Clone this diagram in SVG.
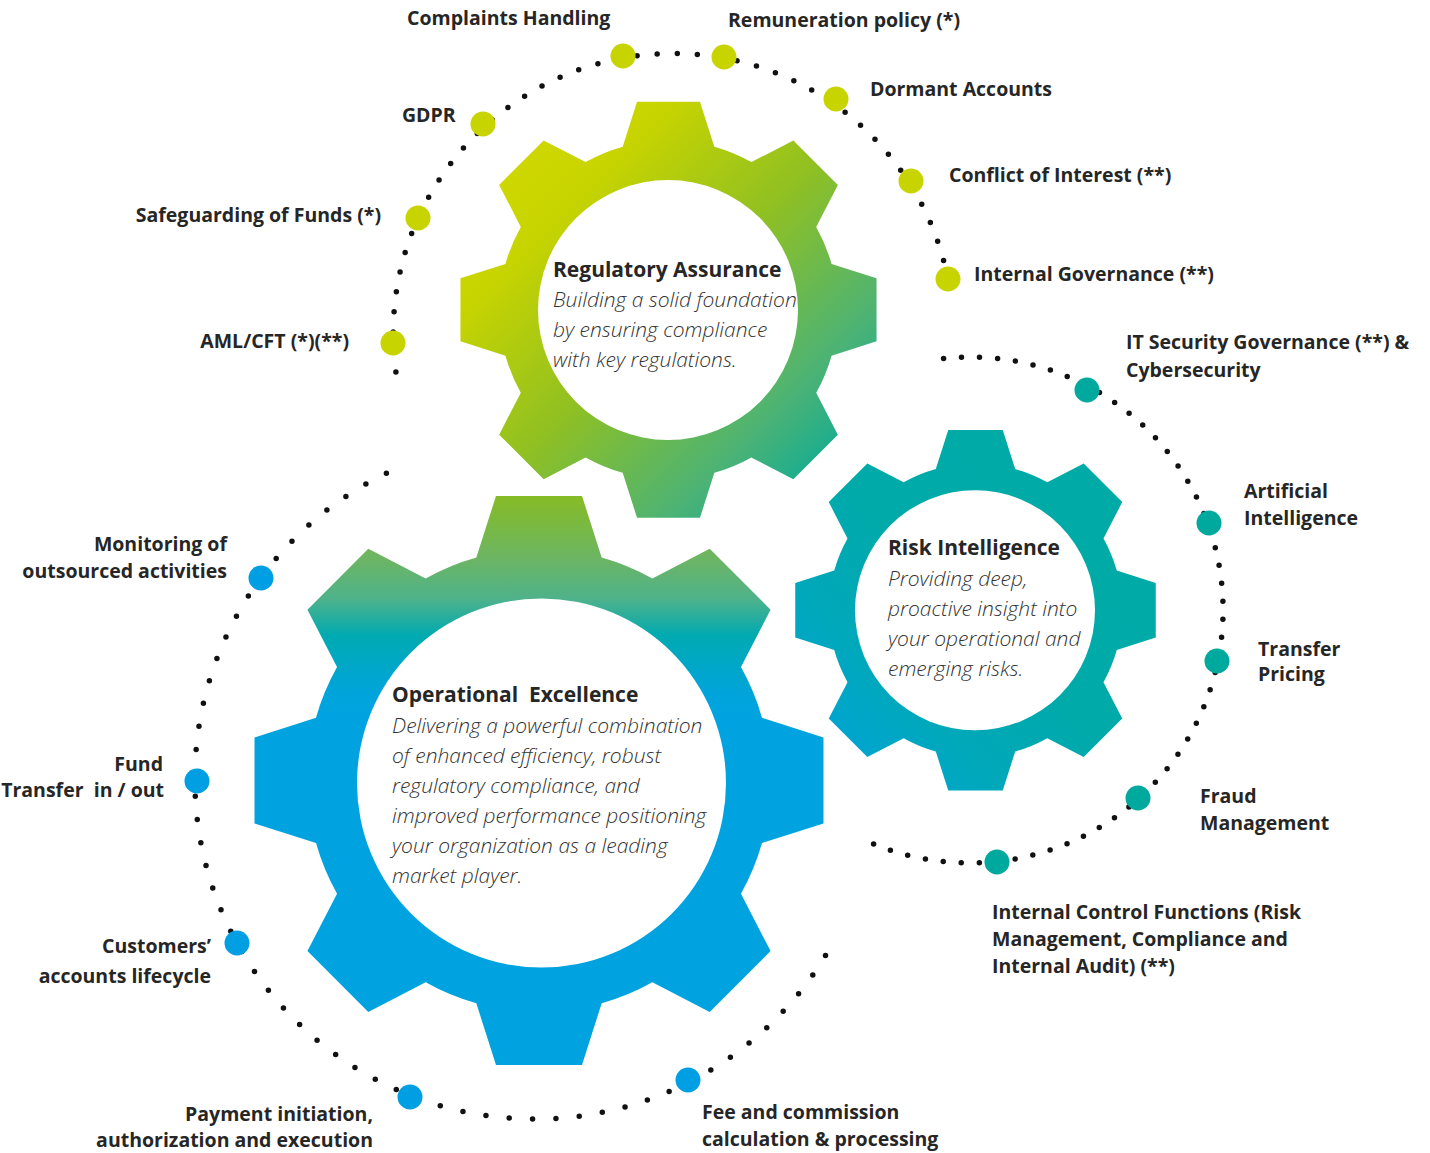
<svg xmlns="http://www.w3.org/2000/svg" xmlns:xlink="http://www.w3.org/1999/xlink" width="1430" height="1153" viewBox="0 0 1430 1153">
<style>
.lbl{font-family:"Open Sans","Liberation Sans",sans-serif;font-weight:700;font-size:19.5px;fill:#262626}
.end{text-anchor:end}
.ttl{font-family:"Open Sans","Liberation Sans",sans-serif;font-weight:700;font-size:21px;fill:#262626}
.body{font-family:"Open Sans","Liberation Sans",sans-serif;font-style:italic;font-weight:300;font-size:21px;fill:#333}
.dots{fill:none;stroke:#111;stroke-width:5.5;stroke-linecap:round;stroke-dasharray:0 1}
.hole{fill:#fff}
.lime{fill:#c8d400}
.teal{fill:#00a99d}
.blue{fill:#009fe3}
</style>
<defs>
<path id="gear" d="M77.5,-21.78 L98.88,-14.95 L98.88,14.95 L77.5,21.78 A80.5,80.5 0 0 1 70.2,39.4 L80.49,59.34 L59.34,80.49 L39.4,70.2 A80.5,80.5 0 0 1 21.78,77.5 L14.95,98.88 L-14.95,98.88 L-21.78,77.5 A80.5,80.5 0 0 1 -39.4,70.2 L-59.34,80.49 L-80.49,59.34 L-70.2,39.4 A80.5,80.5 0 0 1 -77.5,21.78 L-98.88,14.95 L-98.88,-14.95 L-77.5,-21.78 A80.5,80.5 0 0 1 -70.2,-39.4 L-80.49,-59.34 L-59.34,-80.49 L-39.4,-70.2 A80.5,80.5 0 0 1 -21.78,-77.5 L-14.95,-98.88 L14.95,-98.88 L21.78,-77.5 A80.5,80.5 0 0 1 39.4,-70.2 L59.34,-80.49 L80.49,-59.34 L70.2,-39.4 A80.5,80.5 0 0 1 77.5,-21.78 Z"/>
<linearGradient id="gReg" x1="0" y1="0" x2="1" y2="1">
<stop offset="0" stop-color="#d6da00"/>
<stop offset="0.25" stop-color="#c8d400"/>
<stop offset="0.5" stop-color="#90c022"/>
<stop offset="0.75" stop-color="#4cb375"/>
<stop offset="0.88" stop-color="#14ac92"/>
<stop offset="1" stop-color="#00a99d"/>
</linearGradient>
<linearGradient id="gOp" x1="0" y1="0" x2="0" y2="1">
<stop offset="0" stop-color="#86bc25"/>
<stop offset="0.11" stop-color="#6cb563"/>
<stop offset="0.18" stop-color="#4fb28a"/>
<stop offset="0.227" stop-color="#17aca6"/>
<stop offset="0.245" stop-color="#00aab0"/>
<stop offset="0.3" stop-color="#00a7c8"/>
<stop offset="0.35" stop-color="#00a4dc"/>
<stop offset="0.4" stop-color="#00a3e0"/>
<stop offset="1" stop-color="#00a3e0"/>
</linearGradient>
<linearGradient id="gRisk" x1="1" y1="0" x2="0" y2="1">
<stop offset="0" stop-color="#00aba5"/>
<stop offset="0.5" stop-color="#00aaa9"/>
<stop offset="0.72" stop-color="#00a8bb"/>
<stop offset="1" stop-color="#00a1e2"/>
</linearGradient>
</defs>
<rect width="1430" height="1153" fill="#fff"/>

<g id="connectors">
<path class="dots" pathLength="43" d="M395.9,371.9 A280,280 0 0 1 948.1,280"/>
<path class="dots" pathLength="51" d="M943.6,358.4 A253,253 0 1 1 873.6,843.9"/>
<path class="dots" pathLength="54" d="M386.4,473.2 A340,340 0 1 0 825.5,955.5"/>
</g>

<g id="gear-regulatory-assurance">
<use xlink:href="#gear" href="#gear" fill="url(#gReg)" transform="translate(668.5,309.8) scale(2.104)"/>
<circle class="hole" cx="668" cy="310" r="130"/>
<text class="ttl" x="553" y="277">Regulatory Assurance</text>
<text class="body" x="553" y="307">Building a solid foundation</text>
<text class="body" x="553" y="337">by ensuring compliance</text>
<text class="body" x="553" y="367">with key regulations.</text>
</g>

<g id="gear-operational-excellence">
<use xlink:href="#gear" href="#gear" fill="url(#gOp)" transform="translate(539,780.4) scale(2.877)"/>
<circle class="hole" cx="541.5" cy="783" r="184.5"/>
<text class="ttl" x="392" y="702" xml:space="preserve">Operational  Excellence</text>
<text class="body" x="392" y="733">Delivering a powerful combination</text>
<text class="body" x="392" y="763">of enhanced efficiency, robust</text>
<text class="body" x="392" y="793">regulatory compliance, and</text>
<text class="body" x="392" y="823">improved performance positioning</text>
<text class="body" x="392" y="853">your organization as a leading</text>
<text class="body" x="392" y="883">market player.</text>
</g>

<g id="gear-risk-intelligence">
<use xlink:href="#gear" href="#gear" fill="url(#gRisk)" transform="translate(975.5,610.3) scale(1.823)"/>
<circle class="hole" cx="975" cy="610.3" r="120"/>
<text class="ttl" x="888" y="555">Risk Intelligence</text>
<text class="body" x="888" y="586">Providing deep,</text>
<text class="body" x="888" y="616">proactive insight into</text>
<text class="body" x="888" y="646">your operational and</text>
<text class="body" x="888" y="676">emerging risks.</text>
</g>

<g id="node-complaints-handling"><circle class="lime" cx="623" cy="56" r="12.5"/><text class="lbl" x="407" y="25">Complaints Handling</text></g>
<g id="node-remuneration-policy"><circle class="lime" cx="724" cy="57" r="12.5"/><text class="lbl" x="728" y="27">Remuneration policy (*)</text></g>
<g id="node-dormant-accounts"><circle class="lime" cx="836" cy="99" r="12.5"/><text class="lbl" x="870" y="96">Dormant Accounts</text></g>
<g id="node-conflict-of-interest"><circle class="lime" cx="911" cy="181" r="12.5"/><text class="lbl" x="949" y="182">Conflict of Interest (**)</text></g>
<g id="node-internal-governance"><circle class="lime" cx="948" cy="279" r="12.5"/><text class="lbl" x="974" y="281">Internal Governance (**)</text></g>
<g id="node-gdpr"><circle class="lime" cx="483" cy="124" r="12.5"/><text class="lbl" x="402" y="122">GDPR</text></g>
<g id="node-safeguarding"><circle class="lime" cx="418" cy="218" r="12.5"/><text class="lbl end" x="381" y="222">Safeguarding of Funds (*)</text></g>
<g id="node-aml-cft"><circle class="lime" cx="393" cy="343" r="12.5"/><text class="lbl end" x="349" y="348">AML/CFT (*)(**)</text></g>

<g id="node-it-security"><circle class="teal" cx="1087" cy="390" r="12.5"/><text class="lbl" x="1126" y="349">IT Security Governance (**) &amp;</text><text class="lbl" x="1126" y="377">Cybersecurity</text></g>
<g id="node-artificial-intelligence"><circle class="teal" cx="1209" cy="523" r="12.5"/><text class="lbl" x="1244" y="498">Artificial</text><text class="lbl" x="1244" y="525">Intelligence</text></g>
<g id="node-transfer-pricing"><circle class="teal" cx="1217" cy="661" r="12.5"/><text class="lbl" x="1258" y="656">Transfer</text><text class="lbl" x="1258" y="681">Pricing</text></g>
<g id="node-fraud-management"><circle class="teal" cx="1138" cy="798" r="12.5"/><text class="lbl" x="1200" y="803">Fraud</text><text class="lbl" x="1200" y="830">Management</text></g>
<g id="node-internal-control"><circle class="teal" cx="997" cy="862" r="12.5"/><text class="lbl" x="992" y="919">Internal Control Functions (Risk</text><text class="lbl" x="992" y="946">Management, Compliance and</text><text class="lbl" x="992" y="973">Internal Audit) (**)</text></g>

<g id="node-monitoring"><circle class="blue" cx="261" cy="578" r="12.5"/><text class="lbl end" x="227" y="551">Monitoring of</text><text class="lbl end" x="227" y="578">outsourced activities</text></g>
<g id="node-fund-transfer"><circle class="blue" cx="197" cy="781" r="12.5"/><text class="lbl end" x="163" y="771">Fund</text><text class="lbl end" x="164" y="797" xml:space="preserve">Transfer  in / out</text></g>
<g id="node-customers-accounts"><circle class="blue" cx="237" cy="943" r="12.5"/><text class="lbl end" x="211" y="953">Customers’</text><text class="lbl end" x="211" y="983">accounts lifecycle</text></g>
<g id="node-payment"><circle class="blue" cx="410" cy="1097" r="12.5"/><text class="lbl end" x="373" y="1121">Payment initiation,</text><text class="lbl end" x="373" y="1147">authorization and execution</text></g>
<g id="node-fee-commission"><circle class="blue" cx="688" cy="1080" r="12.5"/><text class="lbl" x="702" y="1119">Fee and commission</text><text class="lbl" x="702" y="1146">calculation &amp; processing</text></g>
</svg>
